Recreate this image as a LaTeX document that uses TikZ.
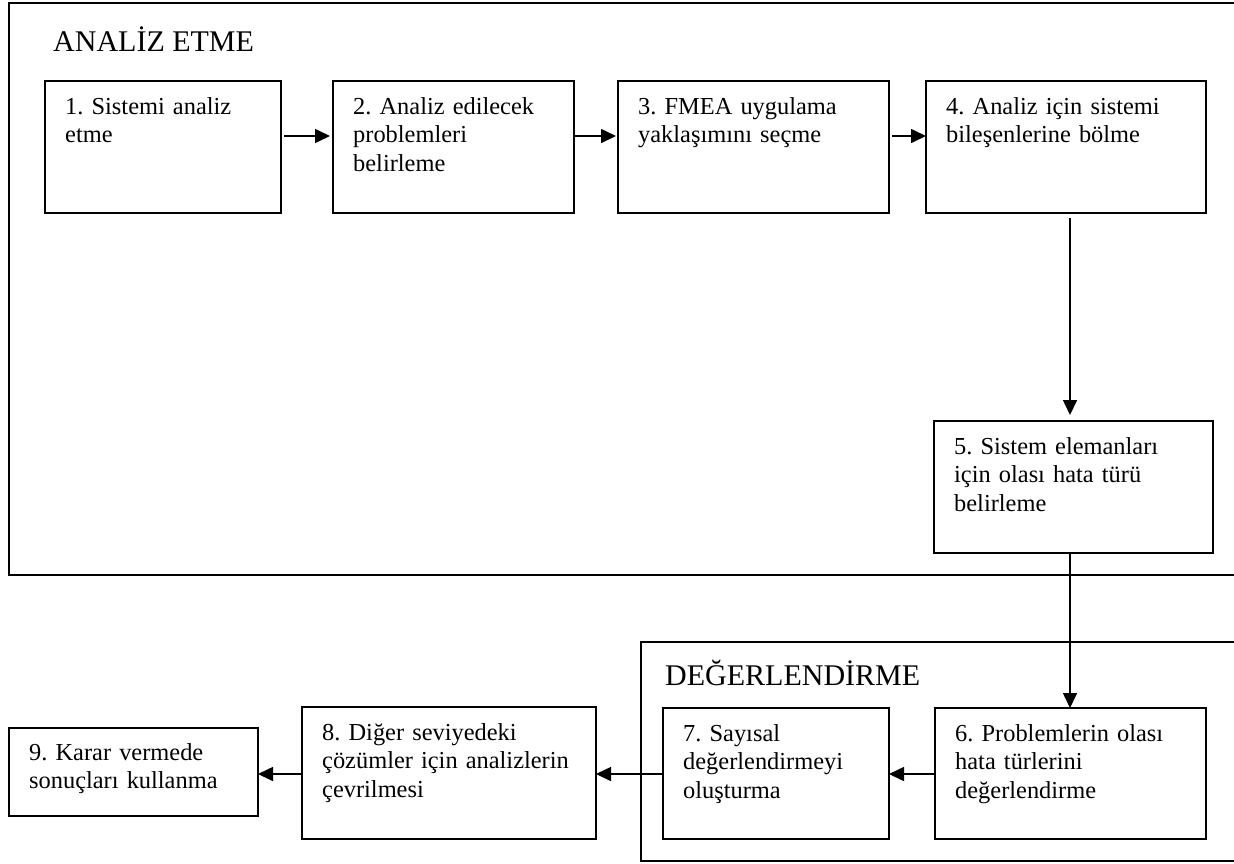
\documentclass[tikz,border=0pt]{standalone}
\usepackage{fontspec}
\setmainfont{Liberation Serif}
\usetikzlibrary{arrows.meta}
\frenchspacing
\begin{document}
\begin{tikzpicture}[x=1pt,y=-1pt,
  stepbox/.style={draw, line width=1.6pt, rectangle, inner sep=0pt, outer sep=0pt, anchor=north west},
  steptext/.style={anchor=base west, inner sep=0pt, text width=300pt, align=left,
    font=\fontsize{24.4}{28.5}\selectfont},
  phasetitle/.style={anchor=base west, inner sep=0pt, font=\fontsize{30}{34}\selectfont},
  arr/.style={line width=1.6pt, -{Triangle[length=15pt,width=14pt]}},
  frame/.style={line width=1.6pt}]
\useasboundingbox (0,0) rectangle (1234,863);

% phase frames (open to the right)
\draw[frame] (1234,3) -- (9,3) -- (9,575) -- (1234,575);
\draw[frame] (1234,642) -- (641,642) -- (641,861) -- (1234,861);
\node[phasetitle] (h1) at (53,51) {ANALİZ ETME};
\node[phasetitle] (h2) at (665,685) {DEĞERLENDİRME};

% step boxes
\node[stepbox, minimum width=236pt, minimum height=132pt] (b1) at (45,81) {};
\node[stepbox, minimum width=241pt, minimum height=132pt] (b2) at (333,81) {};
\node[stepbox, minimum width=271pt, minimum height=132pt] (b3) at (618,81) {};
\node[stepbox, minimum width=280pt, minimum height=132pt] (b4) at (926,81) {};
\node[stepbox, minimum width=279pt, minimum height=132pt] (b5) at (934,421) {};
\node[stepbox, minimum width=271pt, minimum height=131pt] (b6) at (935,708) {};
\node[stepbox, minimum width=226pt, minimum height=131pt] (b7) at (663,708) {};
\node[stepbox, minimum width=294pt, minimum height=132pt] (b8) at (302,707) {};
\node[stepbox, minimum width=249pt, minimum height=88pt] (b9) at (9,728) {};

% step texts
\node[steptext] (t1) at ([shift={(20,33)}]b1.north west) {1. Sistemi analiz\\etme};
\node[steptext] (t2) at ([shift={(20,33)}]b2.north west) {2. Analiz edilecek\\problemleri\\belirleme};
\node[steptext] (t3) at ([shift={(20,33)}]b3.north west) {3. FMEA uygulama\\yaklaşımını seçme};
\node[steptext] (t4) at ([shift={(20,33)}]b4.north west) {4. Analiz için sistemi\\bileşenlerine bölme};
\node[steptext] (t5) at ([shift={(20,33)}]b5.north west) {5. Sistem elemanları\\için olası hata türü\\belirleme};
\node[steptext] (t6) at ([shift={(20,33)}]b6.north west) {6. Problemlerin olası\\hata türlerini\\değerlendirme};
\node[steptext] (t7) at ([shift={(20,33)}]b7.north west) {7. Sayısal\\değerlendirmeyi\\oluşturma};
\node[steptext] (t8) at ([shift={(20,33)}]b8.north west) {8. Diğer seviyedeki\\çözümler için analizlerin\\çevrilmesi};
\node[steptext] (t9) at ([shift={(20,32)}]b9.north west) {9. Karar vermede\\sonuçları kullanma};

% connector rows and column
\coordinate (r1) at (0,136);
\coordinate (r2) at (0,774);
\coordinate (c1) at (1070,0);

\draw[arr, shorten <=3pt, shorten >=3pt] (b1.east |- r1) -- (b2.west |- r1);
\draw[arr, shorten <=1pt, shorten >=2pt] (b2.east |- r1) -- (b3.west |- r1);
\draw[arr, shorten <=3pt] (b3.east |- r1) -- (b4.west |- r1);
\draw[arr, shorten <=5pt, shorten >=6pt] (b4.south -| c1) -- (b5.north -| c1);
\draw[arr] (b5.south -| c1) -- (b6.north -| c1);
\draw[arr] (b6.west |- r2) -- (b7.east |- r2);
\draw[arr] (b7.west |- r2) -- (b8.east |- r2);
\draw[arr] (b8.west |- r2) -- (b9.east |- r2);
\end{tikzpicture}
\end{document}
